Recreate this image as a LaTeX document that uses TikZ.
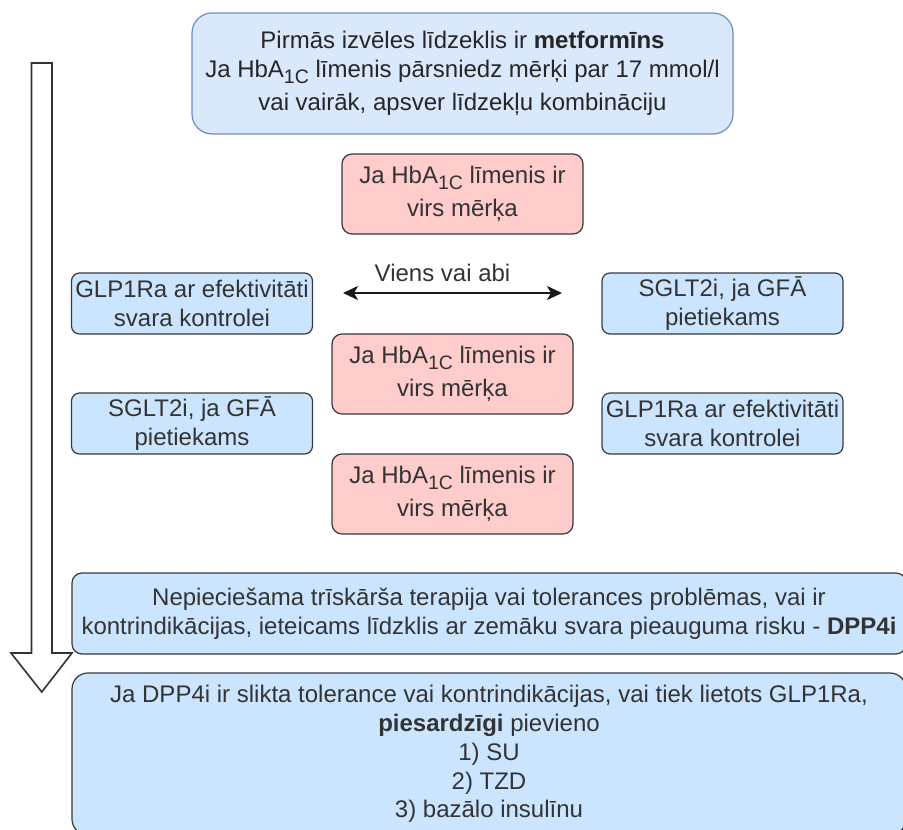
\documentclass[tikz,border=0pt]{standalone}
\usepackage{fontspec}
\setmainfont{Liberation Sans}
\usetikzlibrary{arrows.meta}
\definecolor{topfill}{HTML}{DAE8FC}
\definecolor{topline}{HTML}{6C8EBF}
\definecolor{pinkfill}{HTML}{FFCCCC}
\definecolor{bluefill}{HTML}{CCE5FF}
\definecolor{boxline}{HTML}{36393D}
\definecolor{txt}{HTML}{333333}

% HbA with the "1C" subscript
\newcommand\hbsub{HbA\raisebox{-6pt}{\fontsize{19.5}{19.5}\selectfont 1C}}

\begin{document}
\begin{tikzpicture}[x=1pt,y=-1pt,
  base/.style={align=center, text=txt, font=\fontsize{24}{28.8}\selectfont, inner sep=0pt, line width=1.2pt},
  topbox/.style={base, draw=topline, fill=topfill, rounded corners=20pt, text=black!85},
  pinkbox/.style={base, draw=boxline, fill=pinkfill, rounded corners=10pt, minimum width=241pt, minimum height=80pt},
  optbox/.style={base, draw=boxline, fill=bluefill, rounded corners=8pt, minimum width=241pt, minimum height=61pt},
  stepbox/.style={base, draw=boxline, fill=bluefill, minimum width=834pt},
  both/.style={{Stealth[length=15pt,width=14pt,inset=4pt]}-{Stealth[length=15pt,width=14pt,inset=4pt]}, line width=2pt, draw=black!90},
  bigarrow/.style={line width=1.6pt, draw=black!80, fill=white, line join=miter}
]
\useasboundingbox (0,0) rectangle (903,830);
\clip (0,0) rectangle (903,830);

% downward flow arrow along the left side
\draw[bigarrow] (31.5,63) -- (52,63) -- (52,653) -- (72,653) -- (41.75,692)
  -- (11,653) -- (31.5,653) -- cycle;

% first choice
\node[topbox, minimum width=541pt, minimum height=121pt] (first) at (462.5,73.5)
  {Pirmās izvēles līdzeklis ir \textbf{metformīns}\\
   Ja \hbsub{} līmenis pārsniedz mērķi par 17 mmol/l\\[4pt]
   vai vairāk, apsver līdzekļu kombināciju};

% HbA1C checks
\node[pinkbox] (chk1) at (462.5,194) {Ja \hbsub{} līmenis ir\\[4pt] virs mērķa};
\node[pinkbox] (chk2) at (452.5,374) {Ja \hbsub{} līmenis ir\\[4pt] virs mērķa};
\node[pinkbox] (chk3) at (452.5,494) {Ja \hbsub{} līmenis ir\\[4pt] virs mērķa};

% second-line options
\node[optbox] (glpL) at (192,303.5) {GLP1Ra ar efektivitāti\\ svara kontrolei};
\node[optbox] (sgltR) at (722.5,303.5) {SGLT2i, ja GFĀ\\ pietiekams};
\node[optbox] (sgltL) at (192,423.5) {SGLT2i, ja GFĀ\\ pietiekams};
\node[optbox] (glpR) at (722.5,423.5) {GLP1Ra ar efektivitāti\\ svara kontrolei};

% "one or both" double arrow
\coordinate (eitherL) at (343,293);
\coordinate (eitherR) at (562,293);
\draw[both] (eitherL) -- (eitherR);
\node[base, anchor=base] (either) at (442.5,281) {Viens vai abi};

% further steps
\node[stepbox, rounded corners=10pt, minimum height=81pt] (triple) at (489,613.5)
  {Nepieciešama trīskārša terapija vai tolerances problēmas, vai ir\\
   kontrindikācijas, ieteicams līdzklis ar zemāku svara pieauguma risku - \textbf{DPP4i}};
\node[stepbox, rounded corners=16pt, minimum height=162pt] (caution) at (489,754)
  {Ja DPP4i ir slikta tolerance vai kontrindikācijas, vai tiek lietots GLP1Ra,\\
   \textbf{piesardzīgi} pievieno\\
   1) SU\\
   2) TZD\\
   3) bazālo insulīnu};
\end{tikzpicture}
\end{document}
